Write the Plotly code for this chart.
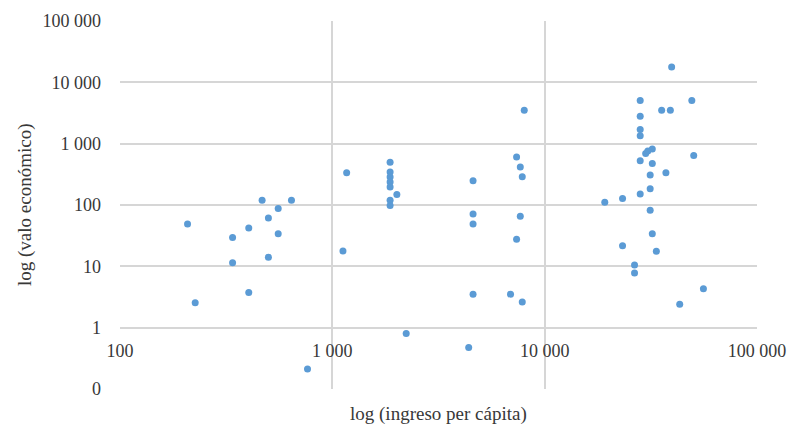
import plotly.graph_objects as go

# Ingreso per cápita (x) y valor económico (y), escala logarítmica
ingreso = [208, 226, 339, 339, 404, 404, 467, 500, 500, 556, 556, 642, 764,
           1122, 1168, 1871, 1871, 1871, 1871, 1871, 2013, 1871, 1871, 2228,
           4600, 4600, 4600, 4600, 4387,
           7374, 7678, 7843, 7678, 7374, 6906, 7843, 8014,
           39630, 28180, 49320, 35560, 39080, 28180, 28180, 28180, 32130,
           30600, 29900, 50350, 28180, 32130, 31400, 37240, 31400, 28180,
           23270, 19190, 31400, 32130, 23270, 33570, 26500, 26500, 55930, 43250]
valor = [49, 2.56, 29.4, 11.4, 42.2, 3.73, 119, 61.4, 14.1, 88, 34.1, 119, 0.211,
         17.8, 336, 500, 344, 285, 237, 196, 149, 120, 98, 0.80,
         248, 71.3, 49, 3.52, 0.475,
         604, 415, 289, 65.5, 27.6, 3.52, 2.61, 3519,
         17800, 5060, 5060, 3519, 3519, 2812, 1706, 1343, 815,
         757, 693, 644, 526, 477, 308, 336, 184, 151,
         128, 111, 82, 34.1, 21.7, 17.6, 10.5, 7.8, 4.33, 2.41]

x_ticks = [100, 1000, 10000, 100000]
x_labels = ["100", "1 000", "10 000", "100 000"]
y_ticks = [0.1, 1, 10, 100, 1000, 10000, 100000]
y_labels = ["0", "1", "10", "100", "1 000", "10 000", "100 000"]

FONT = "Liberation Serif"
TEXT = "#383838"
GRID = "#d6d6d6"

fig = go.Figure(go.Scatter(
    x=ingreso, y=valor, mode="markers",
    marker=dict(size=7, color="#5b9bd5"),
    showlegend=False,
))

fig.update_layout(
    width=802, height=428,
    margin=dict(l=120, r=45, t=21, b=39),
    paper_bgcolor="white", plot_bgcolor="white",
    font=dict(family=FONT, size=18, color=TEXT),
    xaxis=dict(
        type="log", range=[2, 5],
        tickvals=x_ticks, ticktext=x_labels,
        showgrid=True, gridcolor=GRID, gridwidth=1.5,
        showline=False, zeroline=False, ticks="",
        # horizontal axis crosses the vertical one at 1
        anchor="free", position=1 / 6,
        ticklabelstandoff=10,
        tickfont=dict(family=FONT, size=18, color=TEXT),
    ),
    yaxis=dict(
        type="log", range=[-1, 5],
        tickvals=y_ticks, ticktext=y_labels,
        showgrid=True, gridcolor=GRID, gridwidth=1.5,
        showline=False, zeroline=False, ticks="",
        ticklabelstandoff=18,
        tickfont=dict(family=FONT, size=18, color=TEXT),
    ),
    annotations=[
        dict(text="log (ingreso per cápita)", xref="paper", yref="paper",
             x=0.5, y=0, yshift=-25, xanchor="center", yanchor="middle",
             showarrow=False, font=dict(family=FONT, size=19, color=TEXT)),
        dict(text="log (valo económico)", xref="paper", yref="paper",
             x=0, y=0.5, xshift=-95, xanchor="center", yanchor="middle",
             textangle=-90, showarrow=False,
             font=dict(family=FONT, size=19, color=TEXT)),
    ],
)

fig.write_html("out.html")
